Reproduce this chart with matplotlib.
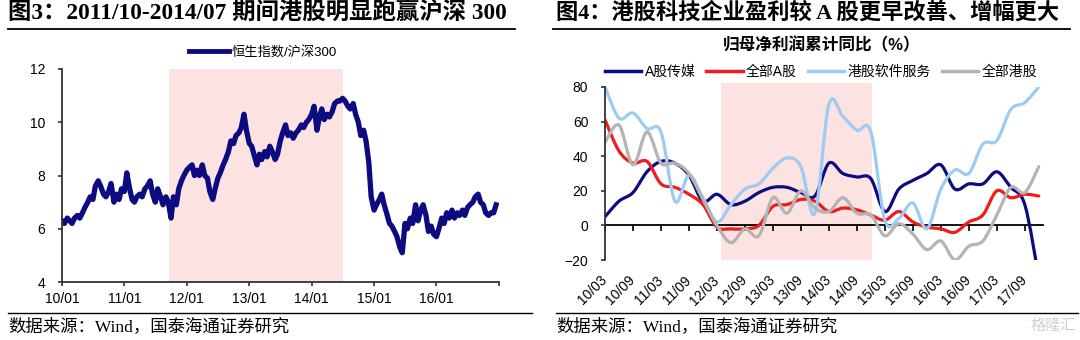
import numpy as np
import pandas as pd
import matplotlib
matplotlib.use("Agg")
import matplotlib.pyplot as plt
import matplotlib.dates as mdates
from matplotlib.lines import Line2D
from matplotlib.path import Path
from matplotlib.patches import PathPatch

SANS = ["Liberation Sans", "Noto Sans CJK SC"]
SERIF = ["Liberation Serif", "Noto Sans CJK SC"]
plt.rcParams["font.family"] = SANS

# ---- left panel: HSI / CSI300 ratio, semi-monthly, 2010-01 .. 2016-12 ----
ratio_dates = pd.date_range("2010-01-01", periods=168, freq="SMS")
hsi_csi300 = [
    6.3, 6.2, 6.4, 6.3, 6.2, 6.4, 6.5, 6.4, 6.6, 6.8, 7.0, 7.2,
    7.1, 7.6, 7.8, 7.6, 7.3, 7.2, 7.4, 7.7, 7.0, 7.3, 7.1, 7.5,
    7.4, 8.1, 7.5, 7.1, 7.0, 7.2, 7.3, 7.2, 7.5, 7.6, 7.8, 7.3,
    7.0, 7.5, 7.2, 6.9, 7.2, 7.0, 6.4, 7.2, 6.9, 7.5, 7.8, 8.0,
    8.2, 8.3, 8.4, 8.0, 8.2, 8.0, 8.4, 8.0, 7.9, 7.4, 7.1, 7.5,
    7.9, 8.1, 8.4, 8.6, 8.9, 9.3, 9.2, 9.5, 9.6, 9.8, 10.3, 9.7,
    9.2, 9.1, 8.7, 8.4, 8.8, 8.6, 8.9, 8.7, 9.1, 8.9, 8.6, 8.8,
    9.3, 9.6, 9.9, 9.5, 9.6, 9.4, 9.6, 9.7, 9.9, 9.8, 10.0, 10.1,
    10.3, 10.6, 9.7, 10.2, 10.5, 10.1, 10.3, 10.2, 10.4, 10.7, 10.8, 10.8,
    10.9, 10.8, 10.6, 10.5, 10.7, 10.3, 10.0, 9.5, 9.7, 9.3, 8.5, 7.2,
    6.7, 6.9, 7.1, 7.3, 6.9, 6.6, 6.2, 6.1, 5.9, 5.7, 5.3, 5.1,
    6.2, 6.0, 6.4, 6.2, 6.9, 6.3, 6.7, 6.9, 6.5, 5.9, 6.1, 5.8,
    5.7, 6.0, 6.4, 6.2, 6.6, 6.4, 6.7, 6.4, 6.6, 6.5, 6.7, 6.5,
    6.8, 6.9, 7.0, 7.2, 7.3, 7.0, 6.9, 6.6, 6.5, 6.6, 6.6, 6.9,
]
shade_left = ("2011-09-20", "2014-07-05")

# ---- right panel: cumulative YoY net profit growth (%), quarterly ----
quarters = [
    "10/03", "10/06", "10/09", "10/12", "11/03", "11/06", "11/09", "11/12",
    "12/03", "12/06", "12/09", "12/12", "13/03", "13/06", "13/09", "13/12",
    "14/03", "14/06", "14/09", "14/12", "15/03", "15/06", "15/09", "15/12",
    "16/03", "16/06", "16/09", "16/12", "17/03", "17/06", "17/09", "17/12",
]
a_media = [5, 14, 19, 31, 37, 36, 29, 14, 18, 12, 14, 19, 22, 22, 19, 17,
           36, 30, 28, 27, 8, 21, 26, 30, 35, 21, 24, 24, 31, 22, 12, -30]
a_all = [61, 43, 36, 37, 24, 22, 18, 12, -1, -2, -2, 0, 11, 12, 15, 14,
         8, 10, 9, 6, 3, 8, 2, -1, -2, -4, 2, 6, 20, 16, 18, 17]
hk_software = [80, 62, 65, 56, 54, 14, 29, 16, 2, 12, 21, 24, 33, 39, 34, 7,
               70, 63, 55, 54, 3, 4, 13, -2, 21, 32, 30, 47, 49, 67, 71, 80]
hk_all = [48, 58, 35, 54, 36, 36, 30, 15, 0, -10, -2, -6, 16, 7, 20, 10,
          8, 16, 7, 6, -6, 1, -5, -14, -9, -20, -12, -9, 6, 22, 19, 34]
shade_right = (8.3, 19.1)

NAVY = "#0c0c80"
PINK = "#fde2e2"
AXIS = "#333333"


def smooth_path(x, y):
    """Catmull-Rom curve through the points, as cubic Bezier segments."""
    pts = np.column_stack([x, y]).astype(float)
    n = len(pts)
    verts, codes = [pts[0]], [Path.MOVETO]
    for i in range(n - 1):
        p0 = pts[i - 1] if i > 0 else pts[i]
        p1, p2 = pts[i], pts[i + 1]
        p3 = pts[i + 2] if i + 2 < n else pts[i + 1]
        verts += [p1 + (p2 - p0) / 6, p2 - (p3 - p1) / 6, p2]
        codes += [Path.CURVE4] * 3
    return Path(verts, codes)


fig = plt.figure(figsize=(10.8, 3.4), dpi=100)
W, H = 1080, 340


def fx(px):
    return px / W


def fy(py):
    return 1 - py / H


# ---- headers / footers ----
fig.text(fx(8), fy(13), "图3：2011/10-2014/07 期间港股明显跑赢沪深 300",
         family=SERIF, weight="bold", fontsize=16.8, va="center", ha="left")
fig.text(fx(556), fy(13), "图4：港股科技企业盈利较 A 股更早改善、增幅更大",
         family=SERIF, weight="bold", fontsize=16, va="center", ha="left")
for x0, x1 in [(8, 515), (553, 1070)]:
    fig.add_artist(Line2D([fx(x0), fx(x1)], [fy(29)] * 2, color="black", lw=1.3))
for x0, x1 in [(8, 532), (556, 1078)]:
    fig.add_artist(Line2D([fx(x0), fx(x1)], [fy(313)] * 2, color="black", lw=1.0))
for x0 in (8, 556):
    fig.text(fx(x0), fy(327), "数据来源：Wind，国泰海通证券研究",
             family=SERIF, fontsize=12.5, va="center", ha="left")
fig.text(fx(1076), fy(326), "格隆汇", color="#d0d0d0", fontsize=11,
         va="center", ha="right")

# ---- left chart ----
ax1 = fig.add_axes([fx(62), fy(282), fx(499 - 62), (282 - 69) / H])
ax1.axvspan(pd.Timestamp(shade_left[0]), pd.Timestamp(shade_left[1]),
            color=PINK, lw=0, zorder=0)
ax1.plot(ratio_dates, hsi_csi300, color=NAVY, lw=3.8, solid_joinstyle="round")
ax1.set_xlim(pd.Timestamp("2010-01-01"), pd.Timestamp("2017-01-01"))
ax1.set_ylim(4, 12)
ax1.set_yticks([4, 6, 8, 10, 12])
ax1.xaxis.set_major_locator(mdates.YearLocator())
ax1.xaxis.set_major_formatter(mdates.DateFormatter("%y/%m"))
for s in ("top", "right"):
    ax1.spines[s].set_visible(False)
for s in ("left", "bottom"):
    ax1.spines[s].set_color(AXIS)
    ax1.spines[s].set_linewidth(1.3)
ax1.tick_params(axis="both", direction="out", length=3, width=1.2,
                color=AXIS, labelsize=10)
ax1.tick_params(axis="y", pad=9)
ax1.tick_params(axis="x", pad=4)
fig.canvas.draw()
# the closing 17/01 tick keeps its mark but carries no label
ax1.get_xticklabels()[-1].set_visible(False)
ax1.legend(handles=[Line2D([], [], color=NAVY, lw=3.5)], labels=["恒生指数/沪深300"],
           loc="center", bbox_to_anchor=(fx(263), fy(52)), bbox_transform=fig.transFigure,
           frameon=False, fontsize=9.5, handlelength=3.0, handletextpad=0.2)

# ---- right chart ----
ax2 = fig.add_axes([fx(605), fy(260), fx(1043 - 605), (260 - 87) / H])
ax2.axvspan(shade_right[0], shade_right[1], ymin=0, ymax=1.025,
            color=PINK, lw=0, zorder=0, clip_on=False)
idx = np.arange(len(quarters))
series = [
    (a_media, NAVY, "A股传媒"),
    (a_all, "#ee1c1c", "全部A股"),
    (hk_software, "#9ccbf3", "港股软件服务"),
    (hk_all, "#b4b4b4", "全部港股"),
]
handles = []
for vals, color, name in series:
    patch = PathPatch(smooth_path(idx, vals), fill=False, edgecolor=color,
                      lw=2.3, joinstyle="round", capstyle="round")
    ax2.add_patch(patch)
    handles.append(Line2D([], [], color=color, lw=2.5, label=name))
ax2.set_xlim(0, 31.3)
ax2.set_ylim(-20, 80)
ax2.set_yticks(range(-20, 81, 20))
ax2.set_xticks(idx[::2])
ax2.set_xticklabels(quarters[::2], rotation=45, ha="right", va="center",
                    rotation_mode="anchor")
for s in ("top", "right", "bottom"):
    ax2.spines[s].set_visible(False)
ax2.spines["left"].set_color(AXIS)
ax2.spines["left"].set_linewidth(1.3)
ax2.tick_params(axis="y", direction="out", length=3, width=1.2, color=AXIS,
                labelsize=10, pad=9)
ax2.tick_params(axis="x", length=0, labelsize=10, pad=13)
# zero line carries the tick marks
zero = ax2.secondary_xaxis(0.2)
zero.set_xticks(idx[::2])
zero.tick_params(axis="x", direction="out", length=4, width=1.2, color="black",
                 labelbottom=False, labeltop=False)
zero.spines["bottom"].set_color("black")
zero.spines["bottom"].set_linewidth(1.3)
zero.spines["top"].set_visible(False)

fig.text(fx(822), fy(45), "归母净利润累计同比（%）", fontsize=12, weight="bold",
         ha="center", va="center")
fig.legend(handles=handles, loc="center", bbox_to_anchor=(fx(821), fy(72)),
           ncol=4, frameon=False, fontsize=10, handlelength=2.6,
           handletextpad=0.25, columnspacing=0.8)

fig.savefig("out.png", dpi=100)
